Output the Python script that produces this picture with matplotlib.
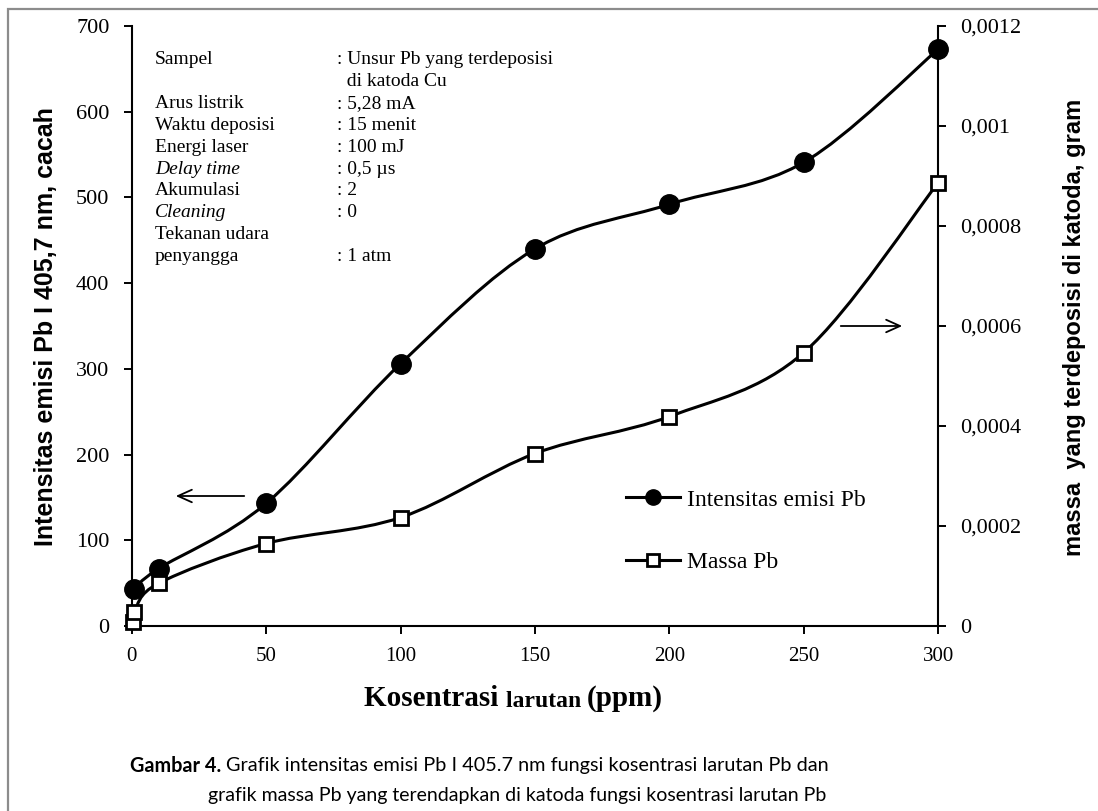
import numpy as np
import matplotlib
matplotlib.use("Agg")
from matplotlib import pyplot as plt
from matplotlib.path import Path
from matplotlib.patches import PathPatch, Rectangle
from matplotlib.lines import Line2D

# values
konsentrasi_intensitas = [1, 10, 50, 100, 150, 200, 250, 300]
intensitas = [43, 67, 143, 306, 440, 492, 541, 673]

konsentrasi_massa = [0.5, 1, 10, 50, 100, 150, 200, 250, 300]
massa = [0.0000086, 0.0000286, 0.0000854, 0.000165, 0.000217,
         0.000345, 0.000419, 0.000547, 0.000887]

x_ticks = [0, 50, 100, 150, 200, 250, 300]
y_left_ticks = [0, 100, 200, 300, 400, 500, 600, 700]
y_right_ticks = [0, 0.0002, 0.0004, 0.0006, 0.0008, 0.001, 0.0012]
y_right_labels = ["0", "0,0002", "0,0004", "0,0006", "0,0008", "0,001", "0,0012"]

info_keys = ["Sampel", "", "Arus listrik", "Waktu deposisi", "Energi laser",
             "Delay time", "Akumulasi", "Cleaning", "Tekanan udara", "penyangga"]
info_italic = [False, False, False, False, False, True, False, True, False, False]
info_values = [": Unsur Pb yang terdeposisi", "  di katoda Cu", ": 5,28 mA",
               ": 15 menit", ": 100 mJ", ": 0,5 \u00b5s", ": 2", ": 0", "", ": 1 atm"]

SERIF = ["Liberation Serif", "DejaVu Serif"]
SANS = ["Liberation Sans", "DejaVu Sans"]
CAPTION = ["Lato", "DejaVu Sans"]

W, H = 1098, 811


def smooth_path(x, y):
    # excel-like smoothed line: catmull-rom segments as cubic beziers
    pts = np.column_stack([x, y]).astype(float)
    n = len(pts)
    verts = [pts[0]]
    codes = [Path.MOVETO]
    for i in range(n - 1):
        p0 = pts[max(i - 1, 0)]
        p1 = pts[i]
        p2 = pts[i + 1]
        p3 = pts[min(i + 2, n - 1)]
        verts += [p1 + (p2 - p0) / 6, p2 - (p3 - p1) / 6, p2]
        codes += [Path.CURVE4] * 3
    return Path(verts, codes)


def fx(px):
    return px / W


def fy(py):
    return 1 - py / H


plt.rcParams["font.family"] = SERIF

fig = plt.figure(figsize=(W / 100, H / 100), dpi=100)
fig.patches.append(Rectangle((fx(8), -0.1), 2, fy(9) + 0.1, transform=fig.transFigure,
                             fill=False, ec="#8c8c8c", lw=1.6))

ax = fig.add_axes([fx(131.7), fy(626), 806.6 / W, 600 / H])
ax2 = ax.twinx()

ax.set_xlim(0, 300)
ax.set_ylim(0, 700)
ax2.set_ylim(0, 0.0012)

ax.set_xticks(x_ticks)
ax.set_yticks(y_left_ticks)
ax2.set_yticks(y_right_ticks)
ax2.set_yticklabels(y_right_labels)

for a in (ax, ax2):
    a.spines["top"].set_visible(False)
    for s in a.spines.values():
        s.set_linewidth(1.5)
    a.tick_params(direction="out", length=6, width=1.4, labelsize=16, pad=10)
ax2.spines["left"].set_visible(False)
ax2.spines["bottom"].set_visible(False)
ax.spines["right"].set_visible(False)
ax.tick_params(axis="x", pad=9, labelsize=15)

# intensity curve (left axis)
ax.add_patch(PathPatch(smooth_path(konsentrasi_intensitas, intensitas), fill=False,
                       ec="black", lw=2.2, zorder=3))
ax.plot(konsentrasi_intensitas, intensitas, "o", color="black", ms=14,
        clip_on=False, zorder=4)

# mass curve (right axis)
ax2.add_patch(PathPatch(smooth_path(konsentrasi_massa, massa), fill=False,
                        ec="black", lw=2.2, zorder=3))
ax2.plot(konsentrasi_massa, massa, "s", mfc="white", mec="black", mew=2, ms=10,
         clip_on=False, zorder=4)

# direction arrows
ax.annotate("", xy=(fx(173), fy(496)), xytext=(fx(247), fy(496)),
            xycoords="figure fraction", textcoords="figure fraction",
            arrowprops=dict(arrowstyle="->,head_length=1.0,head_width=0.45", lw=1.3))
ax.annotate("", xy=(fx(905), fy(326)), xytext=(fx(838), fy(326)),
            xycoords="figure fraction", textcoords="figure fraction",
            arrowprops=dict(arrowstyle="->,head_length=1.0,head_width=0.45", lw=1.3))

# legend
handles = [
    Line2D([], [], color="black", lw=2.2, marker="o", ms=11),
    Line2D([], [], color="black", lw=2.2, marker="s", mfc="white", mew=2, ms=8),
]
ax2.legend(handles, ["Intensitas emisi Pb", "Massa Pb"], loc="upper left",
           bbox_to_anchor=(fx(626), fy(489)), bbox_transform=fig.transFigure,
           frameon=False, fontsize=17, handlelength=2.3, handletextpad=0.3,
           labelspacing=1.75, borderpad=0, borderaxespad=0)

# experiment info block
for i, (k, v) in enumerate(zip(info_keys, info_values)):
    y = fy(60 + i * 21.8)
    fig.text(fx(155), y, k, fontsize=14, va="center",
             style="italic" if info_italic[i] else "normal")
    fig.text(fx(337), y, v, fontsize=14, va="center")

# axis titles
fig.text(fx(46), fy(327), "Intensitas emisi Pb I 405,7 nm, cacah", rotation=90,
         ha="center", va="center", fontsize=18, fontweight="bold", family=SANS)
fig.text(fx(1074), fy(327), "massa  yang terdeposisi di katoda, gram", rotation=90,
         ha="center", va="center", fontsize=17, fontweight="bold", family=SANS)

t1 = fig.text(fx(364), fy(706), "Kosentrasi ", fontsize=21, fontweight="bold",
              va="baseline")
t2 = ax.annotate("larutan ", xy=(1, 0), xycoords=t1, fontsize=17, fontweight="bold",
                 va="bottom", annotation_clip=False)
ax.annotate("(ppm)", xy=(1, 0), xycoords=t2, fontsize=21, fontweight="bold",
            va="bottom", annotation_clip=False)

# caption
c1 = fig.text(fx(130), fy(766), "Gambar 4. ", fontsize=14.3, fontweight="bold",
              family=CAPTION, va="center")
ax.annotate("Grafik intensitas emisi Pb I 405.7 nm fungsi kosentrasi larutan Pb dan",
            xy=(1, 0.5), xycoords=c1, va="center", fontsize=14.3, family=CAPTION,
            annotation_clip=False)
fig.text(fx(208), fy(796),
         "grafik massa Pb yang terendapkan di katoda fungsi kosentrasi larutan Pb",
         fontsize=14, family=CAPTION, va="center")

fig.savefig("out.png", dpi=100)
